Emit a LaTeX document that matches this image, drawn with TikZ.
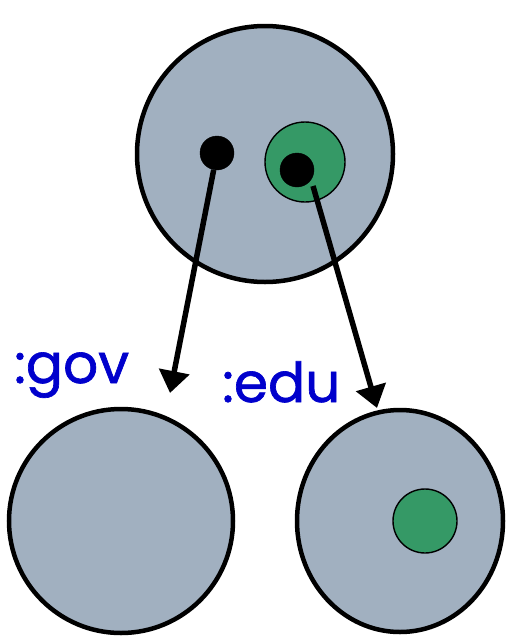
\documentclass[tikz,border=0pt]{standalone}
\usepackage{fontspec}
\newfontfamily\labelfont[FakeBold=1.2]{Poppins}
\usetikzlibrary{arrows.meta,shapes.geometric}
\definecolor{cellgray}{RGB}{161,176,192}
\definecolor{cellgreen}{RGB}{53,153,102}
\definecolor{lblue}{RGB}{0,0,204}
\tikzset{
  bigcell/.style={circle,draw=black,line width=4.5pt,fill=cellgray,inner sep=0pt},
  greencell/.style={circle,draw=black,line width=1.4pt,fill=cellgreen,inner sep=0pt},
  blackdot/.style={circle,draw=black,fill=black,inner sep=0pt,minimum size=34pt},
  arr/.style={line width=5.5pt,-{Triangle[length=22pt,width=30pt]}},
  lbl/.style={text=lblue,font=\labelfont\fontsize{55}{60}\selectfont,inner sep=0pt,anchor=base west}
}
\begin{document}
\begin{tikzpicture}[x=1pt,y=-1pt]
\useasboundingbox (0,0) rectangle (506,637);
\node[bigcell,minimum size=256pt] (top) at (265,154) {};
\node[bigcell,minimum size=224pt] (gov) at (121,521) {};
\node[bigcell,ellipse,minimum width=206pt,minimum height=222pt] (edu) at (400,521) {};
\node[greencell,minimum size=80pt] (g1) at (305,162) {};
\node[greencell,minimum size=64pt] (g2) at (425,521) {};
\node[blackdot] (d1) at (217,153) {};
\node[blackdot] (d2) at (297,170) {};
\coordinate (s2) at (313,186);
\coordinate (t1) at (170,393);
\coordinate (t2) at (377,408);
\draw[arr] (d1) -- (t1);
\draw[arr] (s2) -- (t2);
\node[lbl] (lgov) at (14,383) {:gov};
\node[lbl] (ledu) at (222,402) {:edu};
\end{tikzpicture}
\end{document}
